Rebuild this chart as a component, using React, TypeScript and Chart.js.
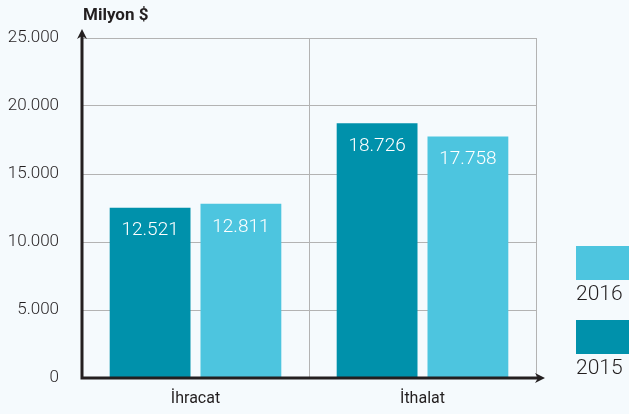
import React, { useEffect, useRef } from "react";
import { Chart, registerables } from "chart.js";

Chart.register(...registerables);

const categories = ["İhracat", "İthalat"];
const years = ["2015", "2016"];
const series2015 = [12521, 18726];
const series2016 = [12811, 17758];
const yTicks = [0, 5000, 10000, 15000, 20000, 25000];
const colors = ["#0091ab", "#4dc5df"];

const fmt = (v: number) => v.toLocaleString("de-DE");

export default function App() {
  const ref = useRef<HTMLCanvasElement | null>(null);

  useEffect(() => {
    if (!ref.current) return;
    const axisPlugin = {
      id: "axisArrows",
      afterDatasetsDraw(chart: any) {
        const ctx = chart.ctx;
        const { left, right, top, bottom } = chart.chartArea;
        ctx.save();
        ctx.strokeStyle = "#231f20";
        ctx.fillStyle = "#231f20";
        ctx.lineWidth = 3;
        ctx.beginPath();
        ctx.moveTo(left, bottom + 1);
        ctx.lineTo(left, top - 4);
        ctx.moveTo(left - 1.5, bottom);
        ctx.lineTo(right + 4, bottom);
        ctx.stroke();
        ctx.beginPath();
        ctx.moveTo(left, top - 9);
        ctx.lineTo(left - 5, top + 1);
        ctx.lineTo(left, top - 2);
        ctx.lineTo(left + 5, top + 1);
        ctx.closePath();
        ctx.fill();
        ctx.beginPath();
        ctx.moveTo(right + 9, bottom);
        ctx.lineTo(right - 1, bottom - 5);
        ctx.lineTo(right + 2, bottom);
        ctx.lineTo(right - 1, bottom + 5);
        ctx.closePath();
        ctx.fill();
        ctx.fillStyle = "#ffffff";
        ctx.font = "300 19px Roboto";
        ctx.textAlign = "center";
        ctx.textBaseline = "middle";
        chart.data.datasets.forEach((ds: any, i: number) => {
          const meta = chart.getDatasetMeta(i);
          meta.data.forEach((bar: any, j: number) => {
            ctx.fillText(fmt(ds.data[j]), bar.x, bar.y + 23);
          });
        });
        ctx.restore();
      },
    };

    const chart = new Chart(ref.current, {
      type: "bar",
      data: {
        labels: categories,
        datasets: [
          { label: years[0], data: series2015, backgroundColor: colors[0] },
          { label: years[1], data: series2016, backgroundColor: colors[1] },
        ],
      },
      options: {
        animation: false,
        responsive: false,
        maintainAspectRatio: false,
        layout: { padding: { top: 38, right: 93, left: 0, bottom: 0 } },
        plugins: { legend: { display: false }, tooltip: { enabled: false } },
        datasets: { bar: { categoryPercentage: 0.8, barPercentage: 0.89 } },
        scales: {
          x: {
            grid: { color: "#b3b3b3", lineWidth: 1, drawTicks: false, offset: true },
            border: { display: false },
            ticks: { color: "#231f20", font: { family: "Roboto", size: 16 }, padding: 11 },
            afterFit: (s: any) => { s.height = 36; },
          },
          y: {
            min: 0,
            max: 25000,
            afterBuildTicks: (s: any) => { s.ticks = yTicks.map((v) => ({ value: v })); },
            grid: { color: "#b3b3b3", lineWidth: 1, drawTicks: false },
            border: { display: false },
            ticks: {
              color: "#231f20",
              font: { family: "Roboto", size: 17, weight: 300 },
              padding: 23,
              callback: (v: any) => fmt(Number(v)),
            },
            afterFit: (s: any) => { s.width = 82; },
          },
        },
      },
      plugins: [axisPlugin],
    });
    return () => chart.destroy();
  }, []);

  const legendItem = (i: number, top: number) => (
    <div style={{ position: "absolute", left: 576, top }}>
      <div style={{ width: 53, height: 34, background: colors[i] }} />
      <div style={{ fontFamily: "Roboto", fontWeight: 300, fontSize: 21, color: "#231f20", marginTop: 1, lineHeight: "24px" }}>
        {years[i]}
      </div>
    </div>
  );

  return (
    <div style={{ position: "fixed", left: 0, top: 0, width: 629, height: 414, background: "#f5fafd", overflow: "hidden" }}>
      <canvas ref={ref} width={629} height={414} style={{ position: "absolute", left: 0, top: 0 }} />
      <div style={{ position: "absolute", left: 83, top: 4, fontFamily: "Roboto", fontWeight: 700, fontSize: 17, color: "#231f20" }}>
        Milyon $
      </div>
      {legendItem(1, 246)}
      {legendItem(0, 320)}
    </div>
  );
}
